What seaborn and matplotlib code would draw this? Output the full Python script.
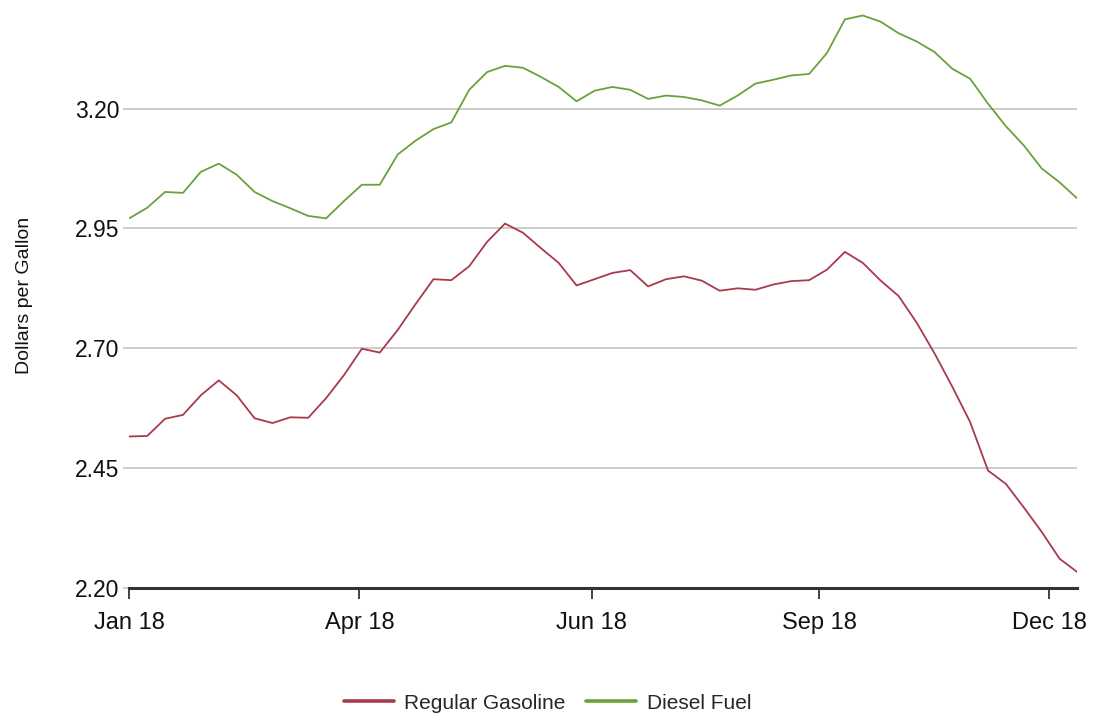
import pandas as pd
import seaborn as sns
import matplotlib.pyplot as plt
import matplotlib.ticker as mticker

# weekly retail prices, 2018
gasoline = [2.516, 2.517, 2.553, 2.561, 2.602, 2.633, 2.602, 2.554, 2.544, 2.556,
            2.555, 2.596, 2.644, 2.699, 2.691, 2.738, 2.792, 2.844, 2.842, 2.871,
            2.922, 2.960, 2.941, 2.909, 2.878, 2.831, 2.844, 2.857, 2.863, 2.829,
            2.844, 2.850, 2.841, 2.820, 2.825, 2.822, 2.833, 2.840, 2.842, 2.864,
            2.901, 2.878, 2.841, 2.809, 2.754, 2.690, 2.620, 2.546, 2.445, 2.417,
            2.368, 2.317, 2.261, 2.233]
diesel = [2.971, 2.993, 3.026, 3.024, 3.068, 3.085, 3.062, 3.026, 3.007, 2.992,
          2.976, 2.971, 3.007, 3.041, 3.041, 3.104, 3.133, 3.157, 3.171, 3.239,
          3.276, 3.289, 3.285, 3.266, 3.245, 3.215, 3.237, 3.245, 3.239, 3.220,
          3.227, 3.224, 3.217, 3.206, 3.227, 3.252, 3.260, 3.269, 3.272, 3.316,
          3.386, 3.394, 3.381, 3.357, 3.340, 3.318, 3.283, 3.262, 3.210, 3.163,
          3.123, 3.075, 3.046, 3.012]
series_names = ["Regular Gasoline", "Diesel Fuel"]
tick_dates = ["2018-01-01", "2018-04-01", "2018-07-01", "2018-09-28", "2018-12-27"]
tick_labels = ["Jan 18", "Apr 18", "Jun 18", "Sep 18", "Dec 18"]
y_ticks = [2.20, 2.45, 2.70, 2.95, 3.20]

weeks = pd.date_range("2018-01-01", periods=len(gasoline), freq="7D")
df = pd.concat([
    pd.DataFrame({"week": weeks, "price": gasoline, "fuel": series_names[0]}),
    pd.DataFrame({"week": weeks, "price": diesel, "fuel": series_names[1]}),
], ignore_index=True)

sns.set_theme(style="white")
plt.rcParams["font.family"] = ["Liberation Sans", "DejaVu Sans"]

fig = plt.figure(figsize=(10.95, 7.19), dpi=100)
ax = fig.add_axes([0.1181, 0.1822, 0.8659, 0.8136])

palette = {"Regular Gasoline": "#a83a4c", "Diesel Fuel": "#6aa23a"}
sns.lineplot(data=df, x="week", y="price", hue="fuel", palette=palette,
             linewidth=1.3, ax=ax)

ax.set_xlim(weeks[0], weeks[-1])
ax.set_ylim(2.20, 3.42)

ax.set_yticks(y_ticks)
ax.yaxis.set_major_formatter(mticker.FormatStrFormatter("%.2f"))
ax.set_xticks(pd.to_datetime(tick_dates))
ax.set_xticklabels(tick_labels)

ax.yaxis.grid(True, color="#c4c4c4", linewidth=1.2)
ax.set_axisbelow(True)
for side in ["top", "right", "left"]:
    ax.spines[side].set_visible(False)
ax.spines["bottom"].set_color("#333333")
ax.spines["bottom"].set_linewidth(2.2)

ax.tick_params(axis="x", bottom=True, length=8, width=1.2, color="#222222",
               labelsize=17, pad=9, labelcolor="#111111")
ax.tick_params(axis="y", left=True, length=4, width=1.2, color="#c4c4c4",
               labelsize=16.5, pad=3, labelcolor="#111111")

ax.set_xlabel("")
ax.set_ylabel("Dollars per Gallon", fontsize=14, labelpad=30, color="#111111")

handles, labels = ax.get_legend_handles_labels()
ax.get_legend().remove()
fig.legend(handles, labels, loc="center", bbox_to_anchor=(0.5, 0.022),
           ncol=2, frameon=False, fontsize=15, handlelength=2.4,
           columnspacing=1.0, handletextpad=0.5)
for line in fig.legends[0].get_lines():
    line.set_linewidth(2.6)

fig.savefig("out.png", dpi=100)
